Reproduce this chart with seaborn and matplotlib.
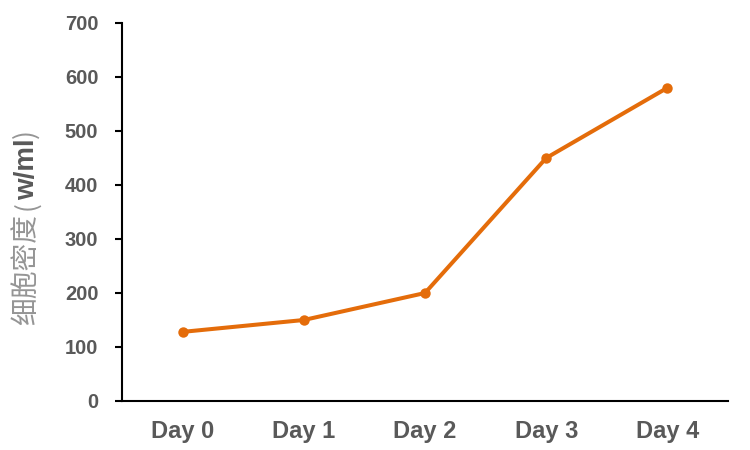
import matplotlib
matplotlib.use("Agg")
import matplotlib.pyplot as plt
import seaborn as sns
import numpy as np
import pandas as pd

days = ["Day 0", "Day 1", "Day 2", "Day 3", "Day 4"]
density = [128, 150, 200, 450, 580]
y_ticks = [0, 100, 200, 300, 400, 500, 600, 700]
y_label_parts = ["细胞密度", "(", "w/ml", ")"]

sns.set_style("white")
plt.rcParams['font.family'] = ['Liberation Sans', 'Noto Sans CJK SC', 'DejaVu Sans']

df = pd.DataFrame({"pos": np.arange(len(days)), "density": density})

fig = plt.figure(figsize=(7.5, 4.5), dpi=100)
ax = fig.add_axes([122/750, 1 - 401/450, (728-122)/750, (401-23)/450])
sns.lineplot(data=df, x="pos", y="density", ax=ax, color="#E46C0A",
             linewidth=2.9, marker="o", markersize=7.5, markeredgewidth=0)

ax.set_xlim(-0.5, len(days) - 0.5)
ax.set_ylim(0, 700)
ax.set_yticks(y_ticks)
ax.set_yticklabels([str(v) for v in y_ticks], fontsize=14.5, fontweight="bold", color="#595959")
ax.set_xticks(np.arange(len(days)))
ax.set_xticklabels(days, fontsize=17, fontweight="bold", color="#595959")
ax.set_xticks(np.arange(len(days) + 1) - 0.5, minor=True)
ax.tick_params(axis="x", which="major", length=0, pad=14)
ax.tick_params(axis="x", which="minor", length=5, width=1.5, direction="out", color="black")
ax.tick_params(axis="y", which="major", length=5, width=1.5, direction="out", color="black", pad=12, left=True)
ax.set_xlabel("")
ax.set_ylabel("")

for s in ["top", "right"]:
    ax.spines[s].set_visible(False)
for s in ["left", "bottom"]:
    ax.spines[s].set_color("black")
    ax.spines[s].set_linewidth(1.5)

# y label built from parts: light CJK + bold unit, sharing a baseline
cjk = ['Noto Sans CJK SC', 'DejaVu Sans']
lat = ['Liberation Sans', 'DejaVu Sans']
styles = [
    dict(color="#959595", family=cjk, fontweight="light", fontsize=20),
    dict(color="#959595", family=cjk, fontweight="light", fontsize=19),
    dict(color="#595959", family=lat, fontweight="bold", fontsize=20),
    dict(color="#959595", family=cjk, fontweight="light", fontsize=19),
]
gaps = [4, 1, 1, 0]
fig.canvas.draw()
renderer = fig.canvas.get_renderer()
x_base = 34  # pixels from left
y_cur = 450 - 325  # pixels from bottom
for part, st, g in zip(y_label_parts, styles, gaps):
    t = fig.text(x_base/750, y_cur/450, part, rotation=90, rotation_mode="anchor",
                 ha="left", va="baseline", **st)
    bb = t.get_window_extent(renderer)
    y_cur += bb.height + g

fig.savefig("out.png", dpi=100)
